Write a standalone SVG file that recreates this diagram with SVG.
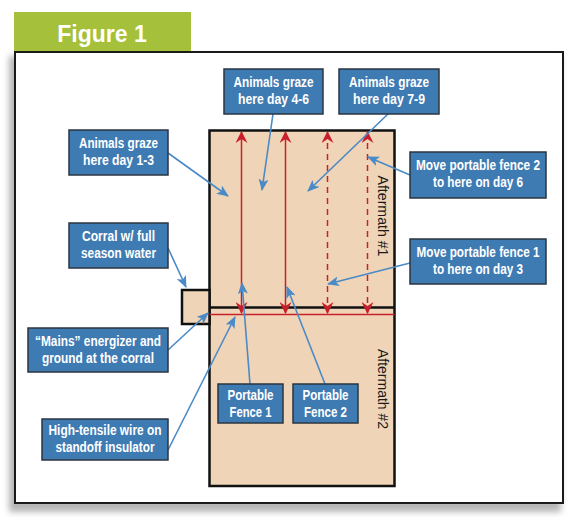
<svg xmlns="http://www.w3.org/2000/svg" width="575" height="526" viewBox="0 0 575 526">
<defs>
<filter id="sh" x="-5%" y="-5%" width="110%" height="115%"><feGaussianBlur stdDeviation="3"/></filter>
<marker id="ab" viewBox="0 0 12 10" refX="11" refY="5" markerWidth="12" markerHeight="10" markerUnits="userSpaceOnUse" orient="auto"><path d="M0,0 L12,5 L0,10 L3,5 z" fill="#4a8ac6"/></marker>
<marker id="ar" viewBox="0 0 12 12" refX="11" refY="6" markerWidth="12" markerHeight="12" markerUnits="userSpaceOnUse" orient="auto-start-reverse"><path d="M0,0 L12,6 L0,12 L4,6 z" fill="#c8202a"/></marker>
</defs>
<style>
.box{fill:#3f7bb3;stroke:#2b3440;stroke-width:1.5}
.bt{font-family:"Liberation Sans",Arial,sans-serif;font-weight:bold;font-size:14.5px;fill:#fff;text-anchor:middle}
.con{stroke:#4a8ac6;stroke-width:1.6;fill:none;marker-end:url(#ab)}
.fence{stroke:#c8202a;stroke-width:1.5;fill:none;marker-start:url(#ar);marker-end:url(#ar)}
.dash{stroke-dasharray:6,5}
.am{font-family:"Liberation Sans",Arial,sans-serif;font-size:15.5px;fill:#1a1a1a;text-anchor:middle}
</style>
<rect width="575" height="526" fill="#fff"/>
<rect x="9" y="56" width="552" height="456" fill="#b5b5b5" filter="url(#sh)"/>
<rect x="14" y="12" width="177" height="41" fill="#a5c03a"/>
<text x="102" y="42" font-family="Liberation Sans,Arial,sans-serif" font-weight="bold" font-size="23" fill="#fff" text-anchor="middle">Figure 1</text>
<rect x="15" y="52" width="548" height="451" fill="#fff" stroke="#1a1a1a" stroke-width="2"/>
<g id="field">
<rect x="209.5" y="130.5" width="185" height="355.5" fill="#f0d4b7" stroke="#111" stroke-width="2.5"/>
<rect x="182" y="290" width="27.5" height="34" fill="#f0d4b7" stroke="#111" stroke-width="2.5"/>
<line x1="209.5" y1="307.5" x2="394.5" y2="307.5" stroke="#111" stroke-width="2.5"/>
<line x1="209.5" y1="314.5" x2="394.5" y2="314.5" stroke="#c8202a" stroke-width="1.5"/>
<text class="am" transform="translate(378,216) rotate(90)" textLength="81" lengthAdjust="spacingAndGlyphs">Aftermath #1</text>
<text class="am" transform="translate(378,389) rotate(90)" textLength="80" lengthAdjust="spacingAndGlyphs">Aftermath #2</text>
</g>
<g id="fences">
<line class="fence" x1="241.5" y1="132" x2="241.5" y2="313"/>
<line class="fence" x1="285.5" y1="132" x2="285.5" y2="313"/>
<line class="fence dash" x1="327.5" y1="132" x2="327.5" y2="313"/>
<line class="fence dash" x1="367.5" y1="132" x2="367.5" y2="313"/>
</g>
<g id="connectors">
<line class="con" x1="168" y1="153" x2="228" y2="196"/>
<line class="con" x1="273" y1="114" x2="262" y2="190"/>
<line class="con" x1="388" y1="114" x2="308" y2="191"/>
<line class="con" x1="410" y1="175" x2="368" y2="157"/>
<line class="con" x1="410" y1="263" x2="328" y2="284"/>
<line class="con" x1="168" y1="248" x2="186" y2="287"/>
<line class="con" x1="168" y1="350" x2="208" y2="313"/>
<line class="con" x1="168" y1="450" x2="235" y2="317"/>
<line class="con" x1="250" y1="384" x2="242" y2="283"/>
<line class="con" x1="325" y1="384" x2="287" y2="287"/>
</g>
<g id="n-day13"><rect class="box" x="69" y="130" width="99" height="45"/><text class="bt" x="118.5" y="148" textLength="79" lengthAdjust="spacingAndGlyphs">Animals graze</text><text class="bt" x="118.5" y="165" textLength="71" lengthAdjust="spacingAndGlyphs">here day 1-3</text></g>
<g id="n-day46"><rect class="box" x="224" y="69" width="99" height="45"/><text class="bt" x="273.5" y="87" textLength="80" lengthAdjust="spacingAndGlyphs">Animals graze</text><text class="bt" x="273.5" y="104" textLength="71" lengthAdjust="spacingAndGlyphs">here day 4-6</text></g>
<g id="n-day79"><rect class="box" x="339" y="69" width="100" height="45"/><text class="bt" x="389" y="87" textLength="80" lengthAdjust="spacingAndGlyphs">Animals graze</text><text class="bt" x="389" y="104" textLength="72" lengthAdjust="spacingAndGlyphs">here day 7-9</text></g>
<g id="n-move2"><rect class="box" x="410" y="152" width="136" height="46"/><text class="bt" x="478" y="170" textLength="124" lengthAdjust="spacingAndGlyphs">Move portable fence 2</text><text class="bt" x="478" y="187" textLength="90" lengthAdjust="spacingAndGlyphs">to here on day 6</text></g>
<g id="n-move1"><rect class="box" x="410" y="239" width="136" height="45"/><text class="bt" x="478" y="257" textLength="123" lengthAdjust="spacingAndGlyphs">Move portable fence 1</text><text class="bt" x="478" y="274" textLength="90" lengthAdjust="spacingAndGlyphs">to here on day 3</text></g>
<g id="n-corral"><rect class="box" x="69" y="223" width="99" height="45"/><text class="bt" x="118.5" y="241" textLength="73" lengthAdjust="spacingAndGlyphs">Corral w/ full</text><text class="bt" x="118.5" y="258" textLength="75" lengthAdjust="spacingAndGlyphs">season water</text></g>
<g id="n-mains"><rect class="box" x="28" y="328" width="140" height="44"/><text class="bt" x="98" y="346" textLength="126" lengthAdjust="spacingAndGlyphs">“Mains” energizer and</text><text class="bt" x="98" y="363" textLength="112" lengthAdjust="spacingAndGlyphs">ground at the corral</text></g>
<g id="n-hightensile"><rect class="box" x="42" y="419" width="126" height="41"/><text class="bt" x="105" y="435" textLength="113" lengthAdjust="spacingAndGlyphs">High-tensile wire on</text><text class="bt" x="105" y="452" textLength="99" lengthAdjust="spacingAndGlyphs">standoff insulator</text></g>
<g id="n-pf1"><rect class="box" x="218" y="384" width="65" height="39"/><text class="bt" x="250.5" y="400" textLength="46" lengthAdjust="spacingAndGlyphs">Portable</text><text class="bt" x="250.5" y="417" textLength="42" lengthAdjust="spacingAndGlyphs">Fence 1</text></g>
<g id="n-pf2"><rect class="box" x="293" y="384" width="65" height="39"/><text class="bt" x="325.5" y="400" textLength="46" lengthAdjust="spacingAndGlyphs">Portable</text><text class="bt" x="325.5" y="417" textLength="43" lengthAdjust="spacingAndGlyphs">Fence 2</text></g>
</svg>
